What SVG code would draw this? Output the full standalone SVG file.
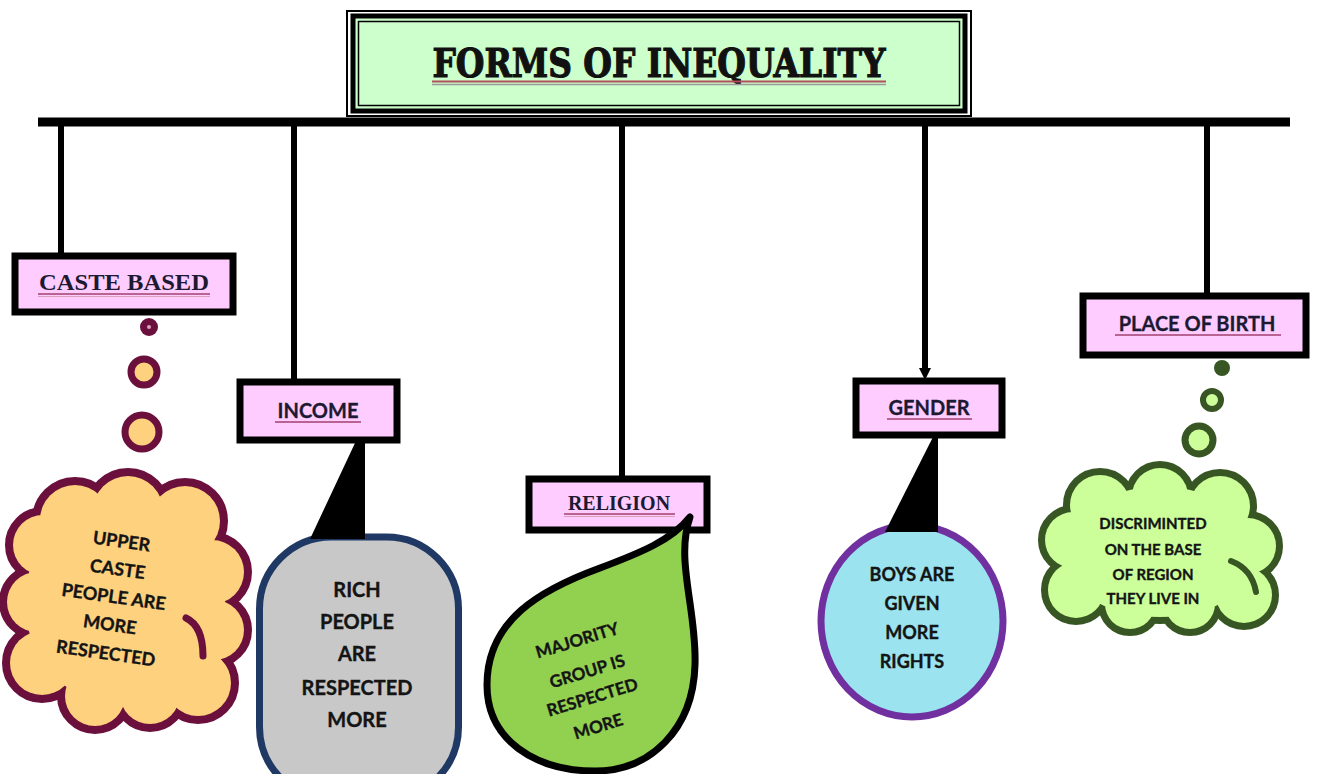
<svg xmlns="http://www.w3.org/2000/svg" width="1317" height="774" viewBox="0 0 1317 774">
  <style>
    .label { fill: #ffccff; stroke: #000; stroke-width: 7; }
    .serif { font-family: "Liberation Serif", "DejaVu Serif", serif; font-weight: bold; fill: #1c1a33; text-anchor: middle; }
    .sans { font-family: Lato, "Liberation Sans", sans-serif; font-weight: bold; fill: #1c1a33; stroke: #1c1a33; stroke-width: 0.3; text-anchor: middle; }
    .body { font-family: Lato, "Liberation Sans", sans-serif; font-weight: bold; fill: #141414; stroke: #141414; stroke-width: 0.35; text-anchor: middle; }
    .uline { stroke: #a0406e; stroke-width: 1.6; }
    .uline2 { stroke: #d9a0c0; stroke-width: 1.2; }
    .wire { stroke: #000; stroke-width: 6; fill: none; }
  </style>

  <rect width="1317" height="774" fill="#fff"/>

  <!-- title -->
  <g id="title">
    <rect x="347" y="11" width="624" height="105" fill="#fff" stroke="#000" stroke-width="2"/>
    <rect x="353" y="16" width="612" height="95" fill="#ccffcc" stroke="#000" stroke-width="5"/>
    <rect x="358.5" y="21.5" width="601" height="84" fill="none" stroke="#000" stroke-width="1.5"/>
    <text x="659" y="77" font-family="'DejaVu Serif', 'Liberation Serif', serif" font-weight="bold" font-size="40" fill="#111" stroke="#111" stroke-width="1.2" text-anchor="middle" textLength="453" lengthAdjust="spacingAndGlyphs">FORMS OF INEQUALITY</text>
    <line x1="432" y1="81.5" x2="886" y2="81.5" stroke="#b0505a" stroke-width="2"/>
    <line x1="432" y1="84.5" x2="886" y2="84.5" stroke="#9a9a9a" stroke-width="1.5"/>
  </g>

  <!-- connectors -->
  <g id="connectors">
    <line x1="38" y1="122" x2="1290" y2="122" stroke="#000" stroke-width="9"/>
    <line class="wire" x1="61" y1="118" x2="61" y2="254"/>
    <line class="wire" x1="294" y1="122" x2="294" y2="380"/>
    <line class="wire" x1="622" y1="122" x2="622" y2="477"/>
    <line class="wire" x1="925" y1="122" x2="925" y2="372"/>
    <polygon points="919,368 931,368 925,380" fill="#000"/>
    <line class="wire" x1="1207" y1="122" x2="1207" y2="294"/>
  </g>

  <!-- caste -->
  <g id="caste">
    <rect class="label" x="15" y="256" width="218" height="56"/>
    <text class="serif" x="124" y="290" font-size="23" textLength="170" lengthAdjust="spacingAndGlyphs">CASTE BASED</text>
    <line class="uline" x1="38" y1="294" x2="210" y2="294"/>
    <line class="uline2" x1="38" y1="296.5" x2="210" y2="296.5"/>
    <circle cx="149" cy="327" r="9" fill="#6b0f3c"/>
    <circle cx="149" cy="327" r="2" fill="#e0a0c0"/>
    <circle cx="144" cy="372" r="13" fill="#fdd17e" stroke="#6b0f3c" stroke-width="7"/>
    <circle cx="142" cy="432" r="17" fill="#fdd17e" stroke="#6b0f3c" stroke-width="7"/>
    <g stroke="#6b0f3c" stroke-width="16" fill="#6b0f3c">
      <ellipse cx="125" cy="602" rx="100" ry="105"/>
      <circle cx="75" cy="520" r="35"/><circle cx="128" cy="511" r="35"/><circle cx="185" cy="521" r="35"/>
      <circle cx="212" cy="572" r="32"/><circle cx="214" cy="630" r="30"/><circle cx="198" cy="683" r="33"/>
      <circle cx="150" cy="694" r="30"/><circle cx="95" cy="696" r="30"/>
      <circle cx="42" cy="663" r="32"/><circle cx="37" cy="602" r="30"/><circle cx="43" cy="545" r="30"/>
    </g>
    <g fill="#fdd17e">
      <ellipse cx="125" cy="602" rx="100" ry="105"/>
      <circle cx="75" cy="520" r="35"/><circle cx="128" cy="511" r="35"/><circle cx="185" cy="521" r="35"/>
      <circle cx="212" cy="572" r="32"/><circle cx="214" cy="630" r="30"/><circle cx="198" cy="683" r="33"/>
      <circle cx="150" cy="694" r="30"/><circle cx="95" cy="696" r="30"/>
      <circle cx="42" cy="663" r="32"/><circle cx="37" cy="602" r="30"/><circle cx="43" cy="545" r="30"/>
    </g>
    <path d="M186,618 Q203,626 203,656" fill="none" stroke="#6b0f3c" stroke-width="7" stroke-linecap="round"/>
    <g transform="rotate(8 113 602)" font-size="18">
      <text class="body" x="113" y="547">UPPER</text>
      <text class="body" x="113" y="575">CASTE</text>
      <text class="body" x="113" y="603">PEOPLE ARE</text>
      <text class="body" x="113" y="631">MORE</text>
      <text class="body" x="113" y="660">RESPECTED</text>
    </g>
  </g>

  <!-- income -->
  <g id="income">
    <rect class="label" x="240" y="382" width="157" height="58"/>
    <text class="sans" x="318" y="418" font-size="20">INCOME</text>
    <line class="uline" x1="275" y1="422" x2="361" y2="422"/>
    <rect x="259.5" y="537" width="199" height="262" rx="72" fill="#c8c8c8" stroke="#1f3864" stroke-width="7"/>
    <polygon points="355,443 365,443 365,539 310,539" fill="#000"/>
    <g font-size="20">
      <text class="body" x="357" y="597">RICH</text>
      <text class="body" x="357" y="629">PEOPLE</text>
      <text class="body" x="357" y="661">ARE</text>
      <text class="body" x="357" y="695">RESPECTED</text>
      <text class="body" x="357" y="727">MORE</text>
    </g>
  </g>

  <!-- religion -->
  <g id="religion">
    <rect class="label" x="529" y="479" width="178" height="51"/>
    <text class="serif" x="619" y="510" font-size="20">RELIGION</text>
    <line class="uline" x1="564" y1="514" x2="675" y2="514"/>
    <line class="uline2" x1="564" y1="516.5" x2="675" y2="516.5"/>
    <path d="M690,517 C675,560 697,610 695,665 C693,730 650,771 595,771 C535,771 487,740 487,685 C487,620 540,590 600,568 C640,553 672,540 690,517 Z" fill="#92d050" stroke="#000" stroke-width="7" stroke-linejoin="round"/>
    <g font-size="17">
      <text class="body" x="579" y="646" transform="rotate(-17 579 646)">MAJORITY</text>
      <text class="body" x="589" y="677" transform="rotate(-17 589 677)">GROUP IS</text>
      <text class="body" x="594" y="703" transform="rotate(-17 594 703)">RESPECTED</text>
      <text class="body" x="600" y="732" transform="rotate(-17 600 732)">MORE</text>
    </g>
  </g>

  <!-- gender -->
  <g id="gender">
    <rect class="label" x="856" y="381" width="146" height="54"/>
    <text class="sans" x="929" y="415" font-size="20">GENDER</text>
    <line class="uline" x1="887" y1="419" x2="972" y2="419"/>
    <ellipse cx="912" cy="621" rx="91" ry="96" fill="#9ae3ef" stroke="#7030a0" stroke-width="7"/>
    <polygon points="933,437 938,437 938,532 885,532" fill="#000"/>
    <g font-size="18">
      <text class="body" x="912" y="581">BOYS ARE</text>
      <text class="body" x="912" y="610">GIVEN</text>
      <text class="body" x="912" y="639">MORE</text>
      <text class="body" x="912" y="668">RIGHTS</text>
    </g>
  </g>

  <!-- place of birth -->
  <g id="birth">
    <rect class="label" x="1083" y="296" width="223" height="59"/>
    <text class="sans" x="1197" y="331" font-size="20">PLACE OF BIRTH</text>
    <line class="uline" x1="1115" y1="335" x2="1281" y2="335"/>
    <circle cx="1222" cy="368" r="8" fill="#375623"/>
    <circle cx="1212" cy="400" r="9" fill="#ccff99" stroke="#375623" stroke-width="6"/>
    <circle cx="1199" cy="440" r="14" fill="#ccff99" stroke="#375623" stroke-width="7"/>
    <g stroke="#375623" stroke-width="14" fill="#375623">
      <ellipse cx="1160" cy="552" rx="100" ry="65"/>
      <circle cx="1100" cy="505" r="30"/><circle cx="1160" cy="496" r="28"/><circle cx="1220" cy="506" r="30"/>
      <circle cx="1248" cy="546" r="28"/><circle cx="1244" cy="595" r="28"/>
      <circle cx="1190" cy="604" r="25"/><circle cx="1130" cy="604" r="25"/>
      <circle cx="1076" cy="590" r="28"/><circle cx="1073" cy="540" r="28"/>
    </g>
    <g fill="#ccff99">
      <ellipse cx="1160" cy="552" rx="100" ry="65"/>
      <circle cx="1100" cy="505" r="30"/><circle cx="1160" cy="496" r="28"/><circle cx="1220" cy="506" r="30"/>
      <circle cx="1248" cy="546" r="28"/><circle cx="1244" cy="595" r="28"/>
      <circle cx="1190" cy="604" r="25"/><circle cx="1130" cy="604" r="25"/>
      <circle cx="1076" cy="590" r="28"/><circle cx="1073" cy="540" r="28"/>
    </g>
    <path d="M1231,561 Q1252,569 1256,592" fill="none" stroke="#375623" stroke-width="6" stroke-linecap="round"/>
    <g font-size="15">
      <text class="body" x="1153" y="529">DISCRIMINTED</text>
      <text class="body" x="1153" y="555">ON THE BASE</text>
      <text class="body" x="1153" y="580">OF REGION</text>
      <text class="body" x="1153" y="604">THEY LIVE IN</text>
    </g>
  </g>
</svg>
